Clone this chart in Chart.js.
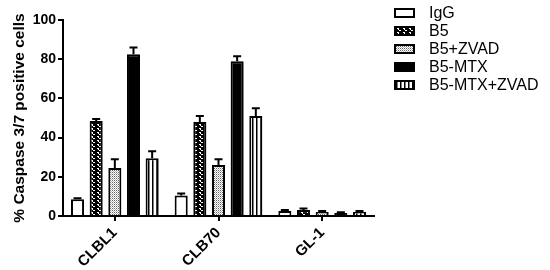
<!DOCTYPE html>
<html>
<head>
<meta charset="utf-8">
<script src="https://cdn.jsdelivr.net/npm/chart.js@4.4.1/dist/chart.umd.min.js"></script>
<style>
  html, body { margin: 0; padding: 0; background: #fff; }
  #wrap { width: 550px; height: 270px; }
</style>
</head>
<body>
<div id="wrap"><canvas id="c" width="550" height="270"></canvas></div>
<script>
// data
var categories = ["CLBL1", "CLB70", "GL-1"];
var seriesNames = ["IgG", "B5", "B5+ZVAD", "B5-MTX", "B5-MTX+ZVAD"];
var igg       = [8.5, 10.5, 2.5];
var b5        = [48.5, 48, 3];
var b5zvad    = [24.5, 26, 2];
var b5mtx     = [82.5, 79, 1.5];
var b5mtxzvad = [29.5, 51, 2];
var iggErr       = [0.6, 1, 0.6];
var b5Err        = [1, 3, 0.8];
var b5zvadErr    = [4.5, 3, 0.6];
var b5mtxErr     = [3.5, 2.5, 0.4];
var b5mtxzvadErr = [3.5, 4, 0.5];
var yTicks = [0, 20, 40, 60, 80, 100];

var FONT = 'Arial, "Liberation Sans", sans-serif';

// small fill patterns
function makePattern(w, h, draw) {
  var cv = document.createElement('canvas');
  cv.width = w; cv.height = h;
  var g = cv.getContext('2d');
  draw(g);
  return g.createPattern(cv, 'repeat');
}
var patZig = makePattern(6, 4, function (g) {
  g.fillStyle = '#000'; g.fillRect(0, 0, 6, 4);
  g.fillStyle = '#fff';
  g.fillRect(1, 0, 2, 1); g.fillRect(2, 1, 1, 1); g.fillRect(3, 2, 2, 1);
});
var patDots = makePattern(2, 2, function (g) {
  g.fillStyle = '#fff'; g.fillRect(0, 0, 2, 2);
  g.fillStyle = '#666'; g.fillRect(0, 0, 1, 1);
  g.fillStyle = '#bbb'; g.fillRect(1, 1, 1, 1);
});
var patStripes = makePattern(4, 4, function (g) {
  g.fillStyle = '#fff'; g.fillRect(0, 0, 4, 4);
  g.fillStyle = '#000'; g.fillRect(0, 0, 1.5, 4);
});

var values = [igg, b5, b5zvad, b5mtx, b5mtxzvad];
var errors = [iggErr, b5Err, b5zvadErr, b5mtxErr, b5mtxzvadErr];
var fills = ['#fff', patZig, patDots, '#000', patStripes];

// error bars, upper half only
var errorBars = {
  id: 'errorBars',
  afterDatasetsDraw: function (chart) {
    var ctx = chart.ctx;
    var y = chart.scales.y;
    ctx.save();
    ctx.strokeStyle = '#000';
    ctx.lineWidth = 2;
    chart.data.datasets.forEach(function (ds, i) {
      var meta = chart.getDatasetMeta(i);
      meta.data.forEach(function (bar, j) {
        var top = y.getPixelForValue(ds.data[j] + ds.err[j]);
        ctx.beginPath();
        ctx.moveTo(bar.x, bar.y);
        ctx.lineTo(bar.x, top);
        ctx.moveTo(bar.x - 4, top);
        ctx.lineTo(bar.x + 4, top);
        ctx.stroke();
      });
    });
    ctx.restore();
  }
};

// legend drawn by hand so it can sit apart from the plot
var sideLegend = {
  id: 'sideLegend',
  afterDraw: function (chart) {
    var ctx = chart.ctx;
    ctx.save();
    ctx.font = '16px ' + FONT;
    ctx.textBaseline = 'middle';
    chart.data.datasets.forEach(function (ds, i) {
      var y = 9 + 18 * i;
      ctx.fillStyle = ds.backgroundColor;
      ctx.fillRect(395, y, 19, 8);
      ctx.strokeStyle = '#000';
      ctx.lineWidth = 2;
      ctx.strokeRect(395, y, 19, 8);
      ctx.fillStyle = '#000';
      ctx.fillText(ds.label, 429, y + 4.5);
    });
    ctx.restore();
  }
};

var ctx = document.getElementById('c');
var chart = new Chart(ctx, {
  type: 'bar',
  data: {
    labels: categories,
    datasets: seriesNames.map(function (name, i) {
      return {
        label: name,
        data: values[i],
        err: errors[i],
        backgroundColor: fills[i],
        borderColor: '#000',
        borderWidth: 2,
        borderSkipped: 'bottom'
      };
    })
  },
  options: {
    responsive: false,
    animation: false,
    layout: { padding: { top: 20, right: 176, left: 0, bottom: 0 } },
    datasets: { bar: { categoryPercentage: 0.9, barPercentage: 0.7 } },
    plugins: {
      tooltip: { enabled: false },
      legend: { display: false }
    },
    scales: {
      x: {
        afterFit: function (s) { s.height = 54; },
        grid: { display: true, drawOnChartArea: false, offset: false, tickLength: 5, color: '#000', lineWidth: 2 },
        border: { color: '#000', width: 2 },
        ticks: {
          color: '#000',
          minRotation: 45,
          maxRotation: 45,
          font: { family: FONT, size: 15, weight: 'bold' }
        }
      },
      y: {
        min: 0,
        max: 100,
        afterFit: function (s) { s.width = 63; },
        afterBuildTicks: function (s) { s.ticks = yTicks.map(function (v) { return { value: v }; }); },
        grid: { display: true, drawOnChartArea: false, tickLength: 5, color: '#000', lineWidth: 2 },
        border: { color: '#000', width: 2 },
        ticks: {
          color: '#000',
          padding: 2,
          font: { family: FONT, size: 14, weight: 'bold' }
        },
        title: {
          display: true,
          text: '% Caspase 3/7 positive cells',
          color: '#000',
          padding: { top: 10, bottom: 0 },
          font: { family: FONT, size: 15.5, weight: 'bold' }
        }
      }
    }
  },
  plugins: [errorBars, sideLegend]
});
</script>
</body>
</html>
